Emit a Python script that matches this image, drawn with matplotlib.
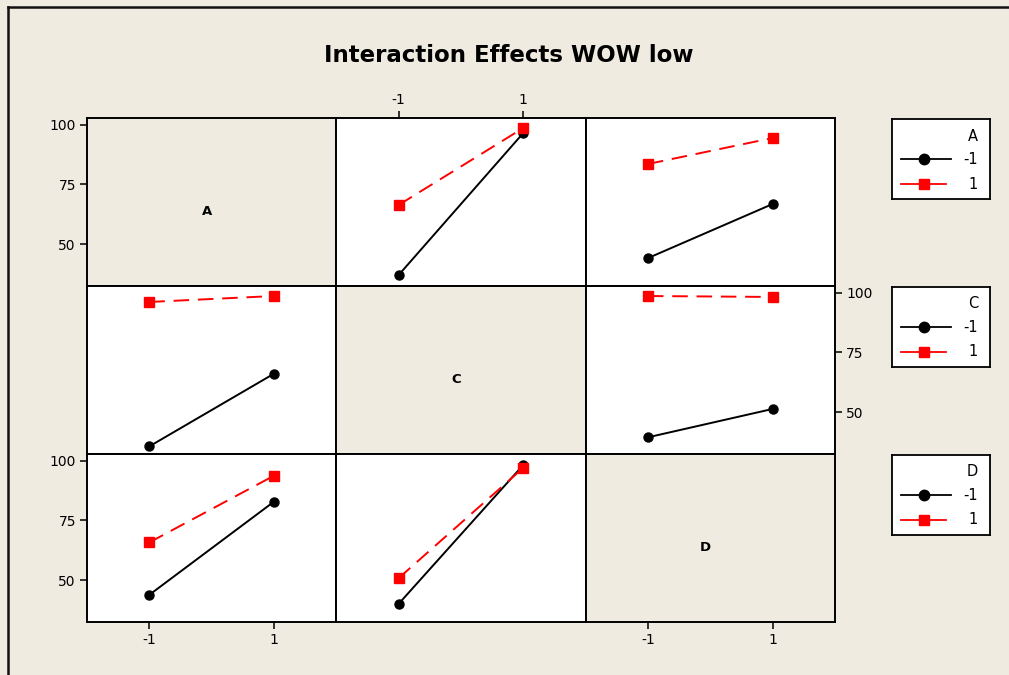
import matplotlib.pyplot as plt
from matplotlib.lines import Line2D

# factors and levels
factors = ['A', 'C', 'D']
levels = [-1, 1]

# cell means: means[(row factor, column factor)][row level] -> values at column levels
means = {
    ('A', 'C'): {-1: [37.0, 96.6], 1: [66.4, 98.7]},
    ('A', 'D'): {-1: [44.1, 66.8], 1: [83.6, 94.5]},
    ('C', 'A'): {-1: [35.6, 66.1], 1: [96.2, 98.7]},
    ('C', 'D'): {-1: [39.4, 51.3], 1: [98.7, 98.3]},
    ('D', 'A'): {-1: [43.8, 82.9], 1: [65.8, 93.8]},
    ('D', 'C'): {-1: [40.0, 98.3], 1: [50.8, 97.1]},
}
yticks = [50, 75, 100]
title = 'Interaction Effects WOW low'

bg = '#efebe1'
W, H = 1009, 675
fig = plt.figure(figsize=(W / 100, H / 100), dpi=100, facecolor=bg)

# outer frame lines
fig.add_artist(Line2D([8 / W, 8 / W], [0, 1 - 7 / H], color='#111111', lw=1.8))
fig.add_artist(Line2D([8 / W, 1], [1 - 7 / H, 1 - 7 / H], color='#111111', lw=1.8))

fig.text(509 / W, 1 - 55 / H, title, ha='center', va='center',
         fontsize=16.5, fontweight='bold')

pw, ph = 249.3, 168
x0, y0 = 87, 118

styles = {
    -1: dict(color='black', marker='o', ms=6.5, lw=1.4, ls='-'),
    1: dict(color='red', marker='s', ms=6.5, lw=1.4, ls=(0, (8, 4.5))),
}

for i, rf in enumerate(factors):
    for j, cf in enumerate(factors):
        left = x0 + j * pw
        top = y0 + i * ph
        ax = fig.add_axes([left / W, 1 - (top + ph) / H, pw / W, ph / H])
        ax.set_xlim(-2, 2)
        ax.set_ylim(32.4, 102.9)
        for s in ax.spines.values():
            s.set_linewidth(1.4)
        ax.tick_params(length=5, width=1.1, labelsize=10, direction='out', pad=3)
        ax.set_xticks([])
        ax.set_yticks([])
        if i == j:
            ax.set_facecolor(bg)
            ax.text(0.48, 0.445, rf, transform=ax.transAxes, ha='center',
                    va='center', fontsize=9.5, fontweight='bold')
        else:
            ax.set_facecolor('white')
            for lv in levels:
                ax.plot(levels, means[(rf, cf)][lv], **styles[lv])
        # y axis labels: left on rows 1 and 3, right on row 2
        if i in (0, 2) and j == 0:
            ax.set_yticks(yticks)
            ax.set_yticklabels([str(t) for t in yticks])
        if i == 1 and j == 2:
            ax.yaxis.tick_right()
            ax.set_yticks(yticks)
            ax.set_yticklabels([str(t) for t in yticks])
        # x axis labels: bottom for cols 1 and 3, top for col 2
        if i == 2 and j in (0, 2):
            ax.set_xticks(levels)
            ax.set_xticklabels([str(v) for v in levels])
        if i == 0 and j == 1:
            ax.xaxis.tick_top()
            ax.set_xticks(levels)
            ax.set_xticklabels([str(v) for v in levels])

# legend boxes, one per row factor
lx, lw_, lh = 892, 98, 80
for i, rf in enumerate(factors):
    top = y0 + i * ph + 1
    lax = fig.add_axes([lx / W, 1 - (top + lh) / H, lw_ / W, lh / H])
    lax.set_xlim(0, lw_)
    lax.set_ylim(lh, 0)
    lax.set_xticks([])
    lax.set_yticks([])
    lax.set_facecolor('white')
    for s in lax.spines.values():
        s.set_linewidth(1.3)
    lax.text(86, 17, rf, ha='right', va='center', fontsize=10.5)
    for k, lv in enumerate(levels):
        yy = 40 + k * 25
        col = styles[lv]['color']
        x1 = 59 if lv == -1 else 54
        lax.plot([9, x1], [yy, yy], color=col, lw=1.3)
        lax.plot([32], [yy], marker=styles[lv]['marker'], color=col, ms=7.5, ls='none')
        lax.text(86, yy, str(lv), ha='right', va='center', fontsize=10.5)

fig.savefig('out.png', dpi=100, facecolor=bg)
